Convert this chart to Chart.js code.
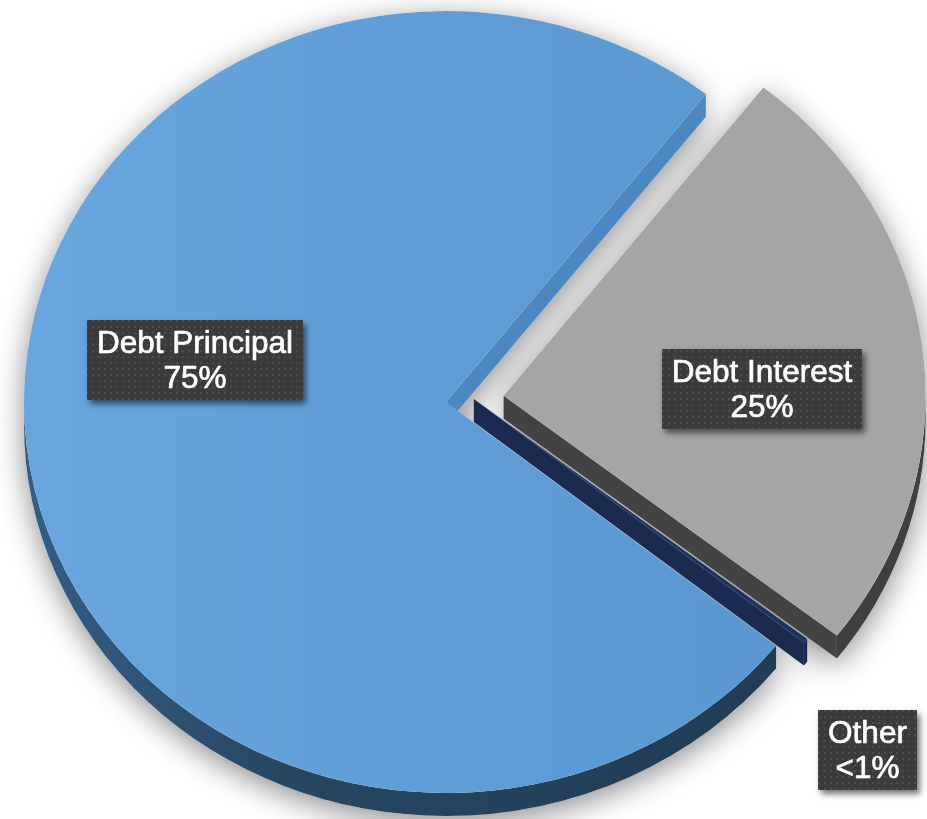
<!DOCTYPE html>
<html>
<head>
<meta charset="utf-8">
<script src="https://cdn.jsdelivr.net/npm/chart.js@4.4.1/dist/chart.umd.min.js"></script>
<style>
  html, body { margin: 0; padding: 0; background: #ffffff; overflow: hidden; }
  canvas { display: block; }
</style>
</head>
<body>
<canvas id="debtPie" width="927" height="819"></canvas>
<script>
// Slice order follows the clockwise drawing order, starting at the rotation angle.
const categories = ['Debt Interest', 'Other', 'Debt Principal'];
const shares = [25, 0.2, 75];
const shareLabels = ['25%', '<1%', '75%'];

// Styling
const topColors = ['#a5a5a5', '#1e3260', '#5e9dd6'];
const faceColors = ['#434343', '#1b2b50', '#4c87c1'];
const rimColors = ['#3f3f3f', '#1b2b50', null];   // principal rim is shaded with a gradient
const explodeBy = [58, 28, 0];                     // px pulled out along the shared bisector
const labelPlace = [
  { r: 0.6125, turn: 5.6 },
  { r: 1.294, turn: 5.7 },
  { r: 0.604, turn: 16.9 }
];
const TILT = 0.9265;     // vertical squash of the pie disc
const DEPTH = 23;        // thickness of the disc in px
const CENTER_Y = 402;
const FONT = '"Liberation Sans", Arial, Helvetica, sans-serif';
const DEG = Math.PI / 180;

function sliceGeometry(chart) {
  const arcs = chart.getDatasetMeta(0).data;
  const bis = (arcs[0].startAngle + arcs[1].endAngle) / 2;
  return arcs.map((a, i) => {
    const ex = Math.cos(bis) * explodeBy[i];
    const ey = Math.sin(bis) * explodeBy[i];
    return {
      arc: a, ex, ey,
      sx: a.x + ex, sy: CENTER_Y + ey * TILT,
      R: a.outerRadius, ry: a.outerRadius * TILT,
      a0: a.startAngle, a1: a.endAngle
    };
  });
}

function sectorPath(ctx, s, dy) {
  ctx.moveTo(s.sx, s.sy + dy);
  ctx.ellipse(s.sx, s.sy + dy, s.R, s.ry, 0, s.a0, s.a1);
  ctx.closePath();
}

function rimPath(ctx, s, lo, hi) {
  ctx.beginPath();
  ctx.ellipse(s.sx, s.sy, s.R, s.ry, 0, lo, hi);
  ctx.lineTo(s.sx + s.R * Math.cos(hi), s.sy + s.ry * Math.sin(hi) + DEPTH);
  ctx.ellipse(s.sx, s.sy + DEPTH, s.R, s.ry, 0, hi, lo, true);
  ctx.closePath();
}

function facePath(ctx, s, a) {
  const px = s.sx + s.R * Math.cos(a);
  const py = s.sy + s.ry * Math.sin(a);
  ctx.beginPath();
  ctx.moveTo(s.sx, s.sy);
  ctx.lineTo(px, py);
  ctx.lineTo(px, py + DEPTH);
  ctx.lineTo(s.sx, s.sy + DEPTH);
  ctx.closePath();
}

let dotPattern = null;
function getDotPattern(ctx) {
  if (!dotPattern) {
    const pc = document.createElement('canvas');
    pc.width = 6; pc.height = 6;
    const p = pc.getContext('2d');
    p.fillStyle = 'rgba(255,255,255,0.09)';
    p.fillRect(2, 2, 2, 2);
    dotPattern = ctx.createPattern(pc, 'repeat');
  }
  return dotPattern;
}

// Draws the tilted, extruded pie: soft shadow, side walls, then the slice tops
const pie3d = {
  id: 'pie3d',
  beforeDatasetsDraw(chart) {
    const ctx = chart.ctx;
    const G = sliceGeometry(chart);

    // soft drop shadow under the whole disc
    ctx.save();
    ctx.shadowColor = 'rgba(0,0,0,0.45)';
    ctx.shadowBlur = 30;
    ctx.shadowOffsetY = 7;
    ctx.fillStyle = '#ffffff';
    ctx.beginPath();
    G.forEach(s => { sectorPath(ctx, s, 0); sectorPath(ctx, s, DEPTH); });
    ctx.fill();
    ctx.restore();

    // side walls
    const rimGrad = ctx.createLinearGradient(20, 0, 820, 0);
    rimGrad.addColorStop(0, '#345e86');
    rimGrad.addColorStop(0.35, '#27465f');
    rimGrad.addColorStop(1, '#213c55');
    G.forEach((s, i) => {
      ctx.save();
      ctx.fillStyle = rimColors[i] || rimGrad;
      for (let k = -1; k <= 2; k++) {
        const lo = Math.max(s.a0, 2 * Math.PI * k);
        const hi = Math.min(s.a1, 2 * Math.PI * k + Math.PI);
        if (hi > lo) { rimPath(ctx, s, lo, hi); ctx.fill(); }
      }
      ctx.fillStyle = faceColors[i];
      if (Math.cos(s.a0) < 0) { facePath(ctx, s, s.a0); ctx.fill(); }
      if (Math.cos(s.a1) > 0) { facePath(ctx, s, s.a1); ctx.fill(); }
      ctx.restore();
    });

    // slice tops, drawn by the arc elements in the squashed frame
    G.forEach(s => {
      ctx.save();
      ctx.translate(s.ex, CENTER_Y + s.ey * TILT);
      ctx.scale(1, TILT);
      ctx.translate(0, -s.arc.y);
      s.arc.draw(ctx);
      ctx.restore();
    });
    return false;
  },
  afterDraw(chart) {
    const ctx = chart.ctx;
    const G = sliceGeometry(chart);
    ctx.save();
    ctx.font = '31.5px ' + FONT;
    G.forEach((s, i) => {
      const ang = (s.a0 + s.a1) / 2 + labelPlace[i].turn * DEG;
      const d = labelPlace[i].r * s.R;
      const x = s.sx + Math.cos(ang) * d;
      const y = s.sy + Math.sin(ang) * d * TILT;
      const lines = [categories[i], shareLabels[i]];
      const w = Math.round(Math.max(...lines.map(t => ctx.measureText(t).width)) + 20);
      const h = 80;
      const bx = Math.round(x - w / 2), by = Math.round(y - h / 2);

      ctx.save();
      ctx.shadowColor = 'rgba(0,0,0,0.55)';
      ctx.shadowBlur = 6;
      ctx.shadowOffsetX = 3;
      ctx.shadowOffsetY = 4;
      ctx.fillStyle = '#3b3b3b';
      ctx.fillRect(bx, by, w, h);
      ctx.restore();
      ctx.fillStyle = getDotPattern(ctx);
      ctx.fillRect(bx, by, w, h);

      ctx.fillStyle = '#ffffff';
      ctx.strokeStyle = '#ffffff';
      ctx.lineWidth = 0.7;
      ctx.lineJoin = 'round';
      ctx.textAlign = 'center';
      ctx.textBaseline = 'alphabetic';
      lines.forEach((t, j) => {
        const ty = by + 33 + j * 35;
        ctx.fillText(t, bx + w / 2, ty);
        ctx.strokeText(t, bx + w / 2, ty);
      });
    });
    ctx.restore();
  }
};

function topFill(c) {
  const i = c.dataIndex;
  if (i === 2) {
    const g = c.chart.ctx.createLinearGradient(24, 0, 880, 0);
    g.addColorStop(0, '#68a6dd');
    g.addColorStop(0.5, '#5e9dd6');
    g.addColorStop(1, '#5896d0');
    return g;
  }
  return topColors[i] || topColors[0];
}

new Chart(document.getElementById('debtPie'), {
  type: 'pie',
  data: {
    labels: categories,
    datasets: [{
      data: shares,
      backgroundColor: topFill,
      borderWidth: 0,
      radius: 422
    }]
  },
  options: {
    responsive: false,
    animation: false,
    events: [],
    rotation: 38,
    layout: { padding: { right: 35 } },
    plugins: {
      legend: { display: false },
      tooltip: { enabled: false }
    }
  },
  plugins: [pie3d]
});
</script>
</body>
</html>
